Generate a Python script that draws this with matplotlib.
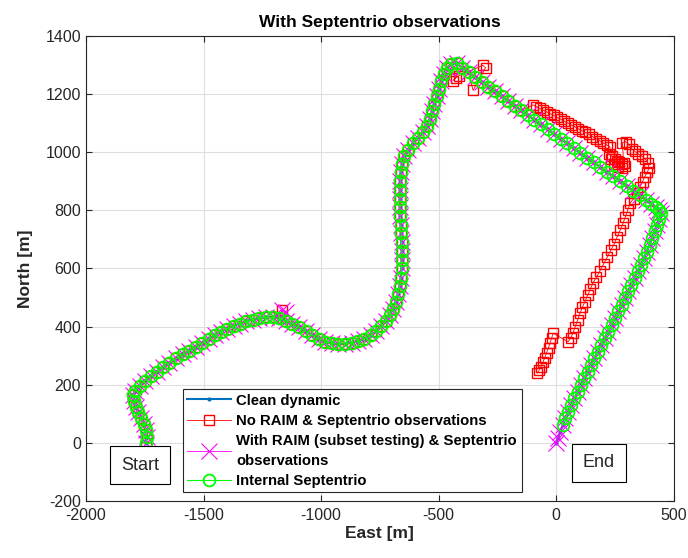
import numpy as np
import matplotlib.pyplot as plt

plt.rcParams['font.family'] = ['Liberation Sans', 'DejaVu Sans']
plt.rcParams['axes.unicode_minus'] = False

# reference track (clean dynamic), [m]
east_clean = [-1745, -1740, -1745, -1755, -1766, -1777, -1787, -1794, -1800,
              -1790, -1772, -1750, -1725, -1700, -1672, -1645, -1616, -1588, -1560,
              -1532, -1505, -1478, -1452, -1425, -1398, -1370,
              -1345, -1318, -1290, -1262, -1234, -1206, -1178, -1150, -1122, -1094,
              -1066, -1038, -1010, -982, -954, -926, -898, -870, -842, -815, -789,
              -765, -744, -725, -708, -694, -682, -672, -665, -660,
              -657, -656, -656, -657, -659, -661, -663, -664, -664, -664, -663, -660,
              -655, -645, -630, -610, -588, -568, -550, -537, -527, -518, -508, -498,
              -488, -477, -463, -445, -423,
              -400, -372, -344, -316, -288, -260, -232, -204, -176, -148, -120, -92,
              -64, -36, -8, 20, 48, 76, 104, 132, 160, 188, 216, 244, 272, 300, 328,
              356, 382, 405, 425, 440,
              448, 440, 430, 420, 409, 398, 386, 374, 361, 348, 335, 321, 307, 293,
              279, 265, 251, 237, 222, 207, 192, 177, 163, 148, 134, 120, 106, 92,
              78, 64, 52, 40, 29, 18, 8, 0]
north_clean = [0, 20, 45, 65, 85, 105, 125, 145, 165,
               180, 196, 214, 230, 245, 261, 276, 291, 304, 317,
               330, 343, 357, 370, 382, 393, 403,
               410, 418, 424, 429, 432, 432, 428, 420, 410, 398,
               385, 370, 358, 348, 342, 340, 341, 344, 350, 358, 370,
               385, 402, 420, 440, 462, 486, 512, 540, 568,
               600, 630, 660, 690, 720, 750, 780, 810, 840, 870, 900, 930,
               958, 985, 1008, 1030, 1050, 1068, 1090, 1114, 1140, 1166, 1192, 1218,
               1244, 1268, 1290, 1303, 1305,
               1290, 1274, 1257, 1241, 1225, 1209, 1192, 1176, 1160, 1143, 1127, 1111,
               1095, 1078, 1062, 1046, 1030, 1013, 997, 981, 965, 948, 932, 916, 900, 883, 867,
               851, 836, 822, 810, 800,
               790, 770, 750, 727, 704, 681, 658, 635, 612, 590, 567, 544, 521, 498,
               475, 452, 429, 406, 383, 360, 337, 314, 291, 268, 245, 222, 199, 176,
               153, 130, 107, 84, 61, 38, 18, 0]

# No RAIM: stray fixes near the small bump and the top of the hill
east_bump = [-1167]
north_bump = [457]
east_peak = [-438, -425, -415, -311, -300, -353]
north_peak = [1246, 1255, 1262, 1298, 1290, 1212]
# No RAIM: where it leaves the reference track (top right leg and return)
east_dev = [-98, -84, -70, -55, -40, -25, -10, 5, 20, 35, 50, 65, 80, 95, 110, 125,
            140, 155, 170, 185, 200, 215, 230,
            225, 238, 252, 266, 280, 295, 282, 262, 245, 232, 258, 288,
            282, 296, 310, 322, 336, 350, 365, 380, 390, 396, 388, 377, 368, 358,
            345, 330,
            315, 305, 295, 285, 272, 260, 248, 233, 218, 202, 187, 172, 157, 145,
            134, 123, 112, 102, 92, 82, 72, 62, 51,
            -13, -18, -25, -32, -40, -48, -56, -65, -72, -80]
north_dev = [1162, 1156, 1150, 1144, 1138, 1132, 1126, 1119, 1113, 1106, 1100, 1093,
             1087, 1080, 1074, 1068, 1061, 1053, 1046, 1039, 1032, 1025, 1017,
             995, 985, 975, 966, 958, 952, 944, 950, 960, 975, 968, 962,
             1032, 1036, 1026, 1012, 1002, 993, 986, 976, 962, 946, 930, 914, 898, 880,
             860, 840,
             824, 800, 778, 755, 731, 708, 685, 662, 639, 615, 592, 570, 550, 528,
             507, 486, 466, 446, 423, 400, 378, 360, 348,
             377, 362, 345, 328, 310, 293, 277, 261, 250, 240]

# With RAIM: a few crosses off the track near the bump
east_raim_out = [-1165, -1150]
north_raim_out = [458, 450]

i_bump = east_clean.index(-1178) + 1
i_peak = east_clean.index(-400) + 1
i_split = east_clean.index(-148) + 1

east_noraim = (east_clean[:i_bump] + east_bump + east_clean[i_bump:i_peak]
               + east_peak + east_clean[i_peak:i_split] + east_dev)
north_noraim = (north_clean[:i_bump] + north_bump + north_clean[i_bump:i_peak]
                + north_peak + north_clean[i_peak:i_split] + north_dev)

east_raim = east_clean[:i_bump] + east_raim_out + east_clean[i_bump:]
north_raim = north_clean[:i_bump] + north_raim_out + north_clean[i_bump:]

# internal receiver solution stops a little before the end
east_int = east_clean[:-3]
north_int = north_clean[:-3]

fig, ax = plt.subplots(figsize=(6.88, 5.58), dpi=100)
fig.subplots_adjust(left=0.125, right=0.979, bottom=0.102, top=0.936)

ax.plot(east_clean, north_clean, '.-', color='#0072BD', lw=1.5, ms=4,
        label='Clean dynamic')
ax.plot(east_noraim, north_noraim, 's-', color='red', mfc='none', ms=6.5, mew=1,
        lw=0.6, label='No RAIM & Septentrio observations')
ax.plot(east_raim, north_raim, 'x-', color='magenta', ms=11, mew=0.8, lw=0.6,
        label='With RAIM (subset testing) & Septentrio\nobservations')
ax.plot(east_int, north_int, 'o-', color='#00FF00', mfc='none', ms=8.5, mew=1.3,
        lw=0.8, label='Internal Septentrio')

ax.set_xlim(-2000, 500)
ax.set_ylim(-200, 1400)
ax.set_xticks(np.arange(-2000, 501, 500))
ax.set_yticks(np.arange(-200, 1401, 200))
ax.grid(True, color='#dedede', lw=0.8)
ax.set_axisbelow(True)
ax.tick_params(direction='in', top=True, right=True, length=4, width=0.8,
               labelsize=11.5, colors='#262626', labelcolor='#262626')
ax.tick_params(axis='x', pad=5)
for s in ax.spines.values():
    s.set_color('#262626')
    s.set_linewidth(0.8)

ax.set_title('With Septentrio observations', fontsize=12.5, fontweight='bold', pad=6)
ax.set_xlabel('East [m]', fontsize=12.5, fontweight='bold', color='#262626', labelpad=2)
ax.set_ylabel('North [m]', fontsize=12.5, fontweight='bold', color='#262626', labelpad=9)

ax.text(-1770, -76, 'Start', fontsize=13, ha='center', va='center', color='#262626',
        bbox=dict(boxstyle='square,pad=0.6', fc='white', ec='black', lw=0.8))
ax.text(183, -69, 'End', fontsize=13, ha='center', va='center', color='#262626',
        bbox=dict(boxstyle='square,pad=0.6', fc='white', ec='black', lw=0.8))

leg = ax.legend(loc='lower left', bbox_to_anchor=(0.165, 0.019), fancybox=False,
                framealpha=1, edgecolor='#262626', numpoints=1, handlelength=2.9,
                borderaxespad=0, labelspacing=0.42, handletextpad=0.4,
                borderpad=0.3, prop={'weight': 'bold', 'size': 10.7})
leg.get_frame().set_linewidth(0.8)
for t in leg.get_texts():
    t.set_linespacing(1.5)

fig.savefig('out.png', dpi=100)
